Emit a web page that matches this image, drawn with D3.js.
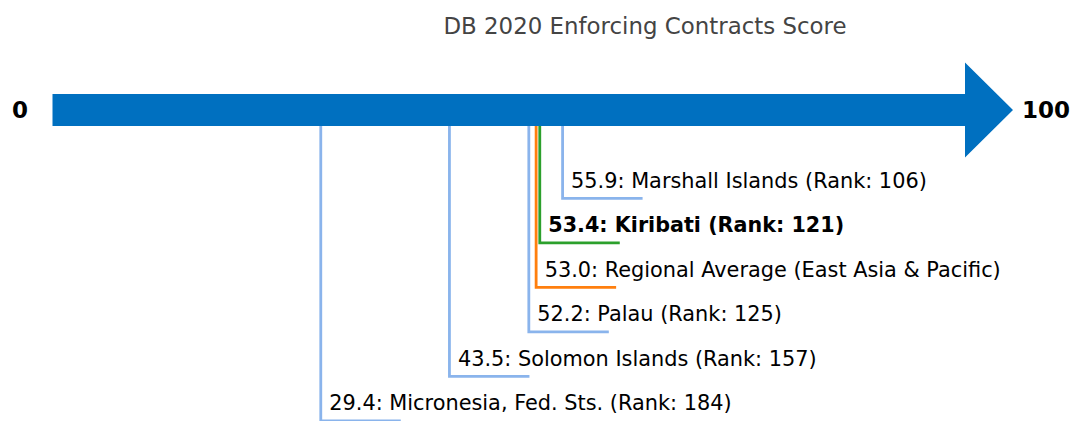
<!DOCTYPE html>
<html>
<head>
<meta charset="utf-8">
<script src="https://cdn.jsdelivr.net/npm/d3@7"></script>
<style>
  body { margin: 0; background: #fff; }
  svg { display: block; font-family: "DejaVu Sans", sans-serif; }
</style>
</head>
<body>
<div id="chart"></div>
<script>
// chart data
var economies = ['Marshall Islands', 'Kiribati', 'Regional Average (East Asia & Pacific)', 'Palau', 'Solomon Islands', 'Micronesia, Fed. Sts.'];
var scores = [55.9, 53.4, 53.0, 52.2, 43.5, 29.4];
var ranks = [106, 121, null, 125, 157, 184];
var kinds = ['peer', 'focus', 'average', 'peer', 'peer', 'peer'];
var axisLabels = ['0', '100'];
var title = 'DB 2020 Enforcing Contracts Score';

var width = 1072, height = 421;
var colors = { peer: '#8ab4ec', focus: '#2ca02c', average: '#ff7f0e' };

var svg = d3.select('#chart').append('svg')
	.attr('width', width)
	.attr('height', height);

var x = d3.scaleLinear().domain([0, 100]).range([52.5, 965]);
var y = d3.scaleLinear().domain([0, economies.length - 1]).range([198.3, 420.8]);

var barMid = 110, barHalf = 16, headHalf = 47.5, headLen = 48;
var tickLen = 80;

// leader lines (drawn first so the arrow sits on top)
var leaders = svg.append('g').attr('class', 'leaders');
var rows = economies.map(function(name, i){
	return { name: name, score: scores[i], rank: ranks[i], kind: kinds[i], i: i };
});

// draw peers first, then average, then the focus economy on top
var order = { peer: 0, average: 1, focus: 2 };
var drawRows = rows.slice().sort(function(a, b){ return order[a.kind] - order[b.kind]; });

leaders.selectAll('path')
	.data(drawRows)
	.enter()
		.append('path')
			.attr('d', function(d){
				var px = x(d.score), py = y(d.i);
				return 'M' + px + ',' + barMid + 'V' + py + 'H' + (px + tickLen);
			})
			.attr('fill', 'none')
			.attr('stroke', function(d){ return colors[d.kind]; })
			.attr('stroke-width', 2.8);

leaders.selectAll('text')
	.data(rows)
	.enter()
		.append('text')
			.attr('x', function(d){ return x(d.score) + 8.5; })
			.attr('y', function(d){ return y(d.i) - 10.8; })
			.attr('font-size', function(d){ return d.kind === 'focus' ? '20.7px' : '20.85px'; })
			.attr('font-weight', function(d){ return d.kind === 'focus' ? 'bold' : 'normal'; })
			.attr('fill', '#000')
			.text(function(d){
				var s = d.score.toFixed(1) + ': ' + d.name;
				if(d.rank !== null){ s += ' (Rank: ' + d.rank + ')'; }
				return s;
			});

// the arrow
var x0 = x(0), x1 = x(100);
svg.append('path')
	.attr('d', 'M' + x0 + ',' + (barMid - barHalf) +
		'H' + x1 + 'V' + (barMid - headHalf) +
		'L' + (x1 + headLen) + ',' + barMid +
		'L' + x1 + ',' + (barMid + headHalf) +
		'V' + (barMid + barHalf) + 'H' + x0 + 'Z')
	.attr('fill', '#0070c0');

// end labels
svg.append('text')
	.attr('x', x0 - 24.5)
	.attr('y', barMid + 8.3)
	.attr('text-anchor', 'end')
	.attr('font-size', '23px')
	.attr('font-weight', 'bold')
	.text(axisLabels[0]);

svg.append('text')
	.attr('x', x1 + headLen + 9)
	.attr('y', barMid + 8.3)
	.attr('font-size', '23px')
	.attr('font-weight', 'bold')
	.text(axisLabels[1]);

// title
svg.append('text')
	.attr('x', 645)
	.attr('y', 34)
	.attr('text-anchor', 'middle')
	.attr('font-size', '22.9px')
	.attr('fill', '#444')
	.text(title);
</script>
</body>
</html>
